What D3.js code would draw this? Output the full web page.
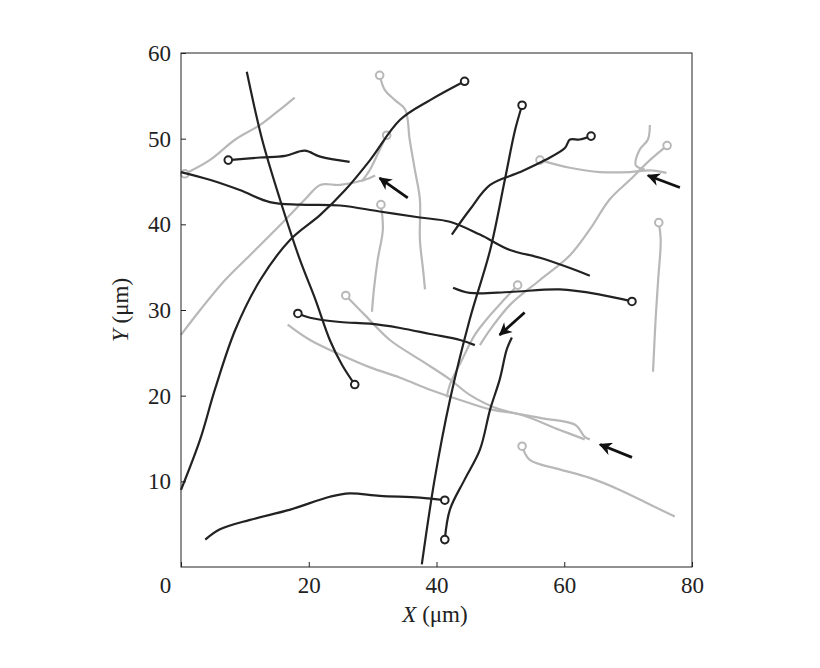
<!DOCTYPE html>
<html><head><meta charset="utf-8">
<script src="https://cdn.jsdelivr.net/npm/d3@7"></script>
<style>body{margin:0;background:#fff}</style></head>
<body><svg id="c" width="820" height="668"></svg>
<script>
const xTicks=[0,20,40,60,80];
const yTicks=[10,20,30,40,50,60];
// black tracks (first point carries circle marker when circ=true)
const k1=[[27.2,21.3],[25.2,23.6],[23.3,26.5],[21.0,31.3],[18.6,35.9],[15.5,42.9],[12.7,49.9],[10.3,57.8]];
const k2=[[44.4,56.7],[39.0,54.5],[34.3,52.2],[29.6,47.5],[25.7,44.0],[21.8,41.1],[17.1,38.2],[12.4,33.5],[8.5,27.7],[5.3,20.7],[3.0,14.9],[0,9.0]];
const k3=[[53.4,53.9],[52.3,51.0],[50.7,45.2],[48.4,37.0],[45.2,28.9],[42.1,19.5],[39.7,10.2],[37.7,0.3]];
const k4=[[41.3,3.2],[42.1,6.7],[44.4,10.2],[46.8,13.7],[48.4,18.4],[49.9,21.9],[51.0,25.4],[51.8,26.8]];
const k5=[[41.3,7.8],[37.4,8.1],[31.1,8.3],[26.4,8.6],[23.3,8.2],[17.1,6.7],[10.8,5.5],[6.1,4.4],[3.8,3.2]];
const k6=[[64.0,34.0],[60.9,34.9],[56.2,36.1],[51.5,37.0],[46.8,38.8],[42.1,40.3],[37.4,40.8],[31.1,41.5],[24.9,42.2],[18.6,42.3],[13.9,42.6],[9.2,44.0],[4.5,45.2],[0,46.1]];
const k7=[[18.3,29.6],[20.2,29.1],[24.9,28.6],[29.6,28.4],[34.3,27.9],[39.0,27.2],[43.7,26.5],[46.0,25.9]];
const k8=[[70.6,31.0],[65.6,31.8],[59.3,32.4],[51.5,32.1],[45.2,32.0],[42.6,32.6]];
const k9=[[64.2,50.3],[62.4,49.9],[60.9,49.9],[60.1,48.9],[57.0,47.5],[53.1,46.1],[48.4,44.6],[45.2,41.7],[42.4,38.8]];
const k10=[[7.4,47.5],[12.4,47.8],[16.3,48.0],[19.4,48.6],[21.8,47.9],[26.4,47.3]];
// gray tracks
const ga=[[0,27.1],[3.0,30.0],[6.9,33.5],[10.8,36.4],[15.5,39.9],[19.4,42.9],[21.8,44.6],[24.9,44.6],[28.8,45.2],[30.4,45.7]];
const gb=[[0.6,45.9],[4.5,47.5],[8.5,49.9],[12.4,51.6],[15.5,53.4],[17.8,54.8]];
const gc=[[31.1,57.4],[31.9,55.7],[33.5,54.5],[35.1,53.4],[35.8,49.9],[36.6,46.4],[37.4,42.9],[37.4,38.2],[37.9,34.7],[38.2,32.4]];
const gd=[[32.2,50.4],[31.1,48.7],[29.6,46.4],[28.3,45.0]];
const ge=[[31.3,42.3],[31.6,39.4],[30.8,35.9],[30.2,32.4],[29.9,29.8]];
const gf=[[25.8,31.7],[28.8,29.4],[32.7,26.5],[37.4,24.2],[42.1,21.9],[45.2,20.1],[49.9,18.4],[56.2,17.4],[61.7,16.6],[63.2,15.2],[64.0,14.9]];
const gg=[[16.7,28.3],[20.2,26.5],[24.9,24.8],[29.6,23.3],[34.3,22.1],[39.0,20.7],[43.7,19.5],[48.4,18.4],[53.1,17.8],[59.3,16.0],[63.2,14.9]];
const gh=[[52.7,32.9],[50.7,31.3],[48.4,29.4],[46.0,27.1],[44.0,24.2],[42.1,21.3],[41.6,19.8]];
const gi=[[56.2,47.5],[60.9,46.6],[65.6,46.1],[70.3,46.1],[73.5,46.3],[76.0,46.0]];
const gj=[[76.1,49.2],[73.4,47.5],[70.3,45.2],[67.1,42.9],[64.0,39.4],[60.9,36.4],[56.2,33.5],[51.5,30.6],[48.4,27.7],[46.8,25.9]];
const gt=[[73.4,51.6],[73.1,49.9],[71.8,48.7],[71.2,46.9],[72.6,46.4]];
const gk=[[74.8,40.2],[75.1,38.2],[74.7,33.5],[74.3,28.9],[73.9,22.8]];
const gl=[[53.4,14.1],[54.6,12.5],[59.3,11.4],[64.0,10.4],[68.7,9.0],[73.4,7.3],[77.3,5.9]];
const arrows=[[[35.5,43.1],[31.1,45.4]],[[78.1,44.3],[73.1,45.7]],[[53.8,29.7],[49.9,27.1]],[[70.6,12.8],[65.6,14.3]]];

const grayTracks=[[ga,false],[gb,true],[gc,true],[gd,true],[ge,true],[gf,true],[gg,false],[gh,true],[gi,true],[gj,true],[gt,false],[gk,true],[gl,true]];
const blackTracks=[[k1,true],[k2,true],[k3,true],[k4,true],[k5,true],[k6,false],[k7,true],[k8,true],[k9,true],[k10,true]];

const svg=d3.select("#c");
const L=181,R=692,T=53,B=567;
const x=d3.scaleLinear().domain([0,80]).range([L,R]);
const y=d3.scaleLinear().domain([0,60]).range([B,T]);
const line=d3.line().x(d=>x(d[0])).y(d=>y(d[1])).curve(d3.curveCatmullRom);
const g=svg.append("g");
g.append("defs").append("marker").attr("id","ah").attr("viewBox","0 0 10 10").attr("refX",9).attr("refY",5)
 .attr("orient","auto").attr("markerUnits","userSpaceOnUse")
 .attr("markerWidth",18).attr("markerHeight",13)
 .append("path").attr("d","M0,0L10,5L0,10L3,5Z").attr("fill","#111");
function draw(tracks,col){
 tracks.forEach(([d,c])=>{
  g.append("path").attr("d",line(d)).attr("fill","none").attr("stroke",col).attr("stroke-width",2.2);
  if(c) g.append("circle").attr("cx",x(d[0][0])).attr("cy",y(d[0][1])).attr("r",3.8).attr("fill","#fff").attr("stroke",col).attr("stroke-width",2);
 });
}
draw(grayTracks,"#b8b8b8");
draw(blackTracks,"#222");
arrows.forEach(a=>g.append("line").attr("x1",x(a[0][0])).attr("y1",y(a[0][1])).attr("x2",x(a[1][0])).attr("y2",y(a[1][1]))
 .attr("stroke","#111").attr("stroke-width",2.8).attr("marker-end","url(#ah)"));
svg.append("rect").attr("x",L).attr("y",T).attr("width",R-L).attr("height",B-T).attr("fill","none").attr("stroke","#222").attr("stroke-width",1);
const font="'Liberation Serif', 'Times New Roman', serif";
const xa=svg.append("g").attr("transform",`translate(0,${B})`).call(d3.axisBottom(x).tickValues(xTicks).tickSizeInner(-5).tickSizeOuter(0).tickPadding(10));
const ya=svg.append("g").attr("transform",`translate(${L},0)`).call(d3.axisLeft(y).tickValues(yTicks).tickSizeInner(-5).tickSizeOuter(0).tickPadding(10));
[xa,ya].forEach(a=>{a.select(".domain").remove();a.selectAll("text").style("font-family",font).attr("font-size",23).attr("fill","#222");a.selectAll("line").attr("stroke","#222");});
xa.selectAll("text").filter(d=>d===0).attr("dx",-16);
svg.append("text").attr("x",435).attr("y",622).attr("text-anchor","middle").style("font-family",font).attr("font-size",23).attr("fill","#222")
 .html('<tspan font-style="italic">X</tspan> (μm)');
svg.append("text").attr("transform","translate(128,310) rotate(-90)").attr("text-anchor","middle").style("font-family",font).attr("font-size",23).attr("fill","#222")
 .html('<tspan font-style="italic">Y</tspan> (μm)');
</script></body></html>
